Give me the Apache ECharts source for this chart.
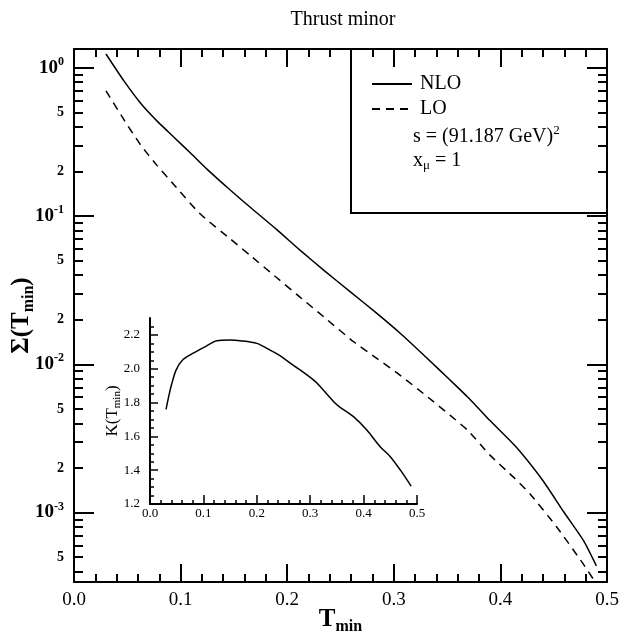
<!DOCTYPE html>
<html>
<head>
<meta charset="utf-8">
<script src="https://cdn.jsdelivr.net/npm/echarts@6/dist/echarts.min.js"></script>
<style>
  html, body { margin: 0; padding: 0; background: #fff; }
  #chart { width: 619px; height: 637px; }
</style>
</head>
<body>
<div id="chart"></div>
<script>
// main plot: Sigma(T_min), NLO and LO
const tNlo = [0.030, 0.047, 0.0625, 0.078, 0.094, 0.110, 0.125, 0.146, 0.167, 0.190, 0.212, 0.235,
  0.259, 0.283, 0.306, 0.330, 0.353, 0.372, 0.390, 0.415, 0.440, 0.459, 0.478, 0.490]
const sigmaNlo = [1.24, 0.813, 0.577, 0.437, 0.339, 0.263, 0.2065, 0.151, 0.112, 0.0813, 0.0589, 0.0427,
  0.0309, 0.0224, 0.0162, 0.0112, 0.0078, 0.00575, 0.00419, 0.00276, 0.00164, 0.00102, 0.000646, 0.000437]

const tLo = [0.030, 0.047, 0.0625, 0.078, 0.094, 0.118, 0.147, 0.165, 0.190, 0.212, 0.235, 0.262,
  0.285, 0.306, 0.330, 0.353, 0.370, 0.390, 0.412, 0.428, 0.453, 0.478, 0.489]
const sigmaLo = [0.70, 0.445, 0.302, 0.219, 0.162, 0.104, 0.0698, 0.0545, 0.0385, 0.0284, 0.0207, 0.01426,
  0.01084, 0.00843, 0.00617, 0.00452, 0.00355, 0.00245, 0.00174, 0.00133, 0.000796, 0.000447, 0.000339]

// inset: K factor
const tK = [0.030, 0.036, 0.041, 0.049, 0.061, 0.081, 0.106, 0.125, 0.150, 0.169, 0.200, 0.222, 0.244,
  0.262, 0.281, 0.306, 0.316, 0.344, 0.356, 0.381, 0.406, 0.431, 0.450, 0.469, 0.489]
const kVals = [1.76, 1.85, 1.914, 1.993, 2.052, 2.092, 2.135, 2.166, 2.170, 2.166, 2.150, 2.115, 2.076,
  2.035, 1.993, 1.934, 1.904, 1.805, 1.772, 1.717, 1.638, 1.539, 1.480, 1.400, 1.306]

// tick values
const yMajorTicks = [0.001, 0.01, 0.1, 1]
const yMinorTicks = [0.0004, 0.0005, 0.0006, 0.0007, 0.0008, 0.0009,
  0.002, 0.003, 0.004, 0.005, 0.006, 0.007, 0.008, 0.009,
  0.02, 0.03, 0.04, 0.05, 0.06, 0.07, 0.08, 0.09,
  0.2, 0.3, 0.4, 0.5, 0.6, 0.7, 0.8, 0.9]
const yLabelTicks = [0.0005, 0.001, 0.002, 0.005, 0.01, 0.02, 0.05, 0.1, 0.2, 0.5, 1]
const kMajorTicks = [1.2, 1.4, 1.6, 1.8, 2.0, 2.2]
const kMinorTicks = [1.25, 1.3, 1.35, 1.45, 1.5, 1.55, 1.65, 1.7, 1.75, 1.85, 1.9, 1.95,
  2.05, 2.1, 2.15, 2.25]

const SERIF = 'Liberation Serif'
const BLACK = '#000'

const chart = echarts.init(document.getElementById('chart'), null, { renderer: 'canvas' })

const line2 = { show: true, lineStyle: { color: BLACK, width: 2 } }
const noLabel = { show: false }

function logLabel(v) {
  const e = Math.log10(v)
  const r = Math.round(e)
  if (Math.abs(e - r) < 1e-6) return '{b|10}{s|' + r + '}'
  const m = Math.round(v / Math.pow(10, Math.floor(e)))
  return '{m|' + m + '}'
}

const logRich = {
  b: { fontFamily: SERIF, fontSize: 19, fontWeight: 'bold', color: BLACK },
  s: { fontFamily: SERIF, fontSize: 12, fontWeight: 'bold', color: BLACK, padding: [0, 0, 12, 0] },
  m: { fontFamily: SERIF, fontSize: 14, fontWeight: 'bold', color: BLACK },
}

function mainX(pos, withLabel) {
  return {
    type: 'value', gridIndex: 0, position: pos, min: 0, max: 0.5, interval: 0.1,
    axisLine: line2,
    axisTick: { inside: true, length: 18, lineStyle: { color: BLACK, width: 2 } },
    minorTick: { show: true, splitNumber: 5, length: 8, lineStyle: { color: BLACK, width: 2 } },
    splitLine: { show: false },
    axisLabel: withLabel ? {
      color: BLACK, fontFamily: SERIF, fontSize: 19, margin: 9,
      showMinLabel: true, showMaxLabel: true,
      formatter: v => v.toFixed(1),
    } : noLabel,
  }
}

function mainY(pos, major, withLabel) {
  return {
    type: 'log', logBase: 10, gridIndex: 0, position: pos, min: 3.4e-4, max: 1.34,
    axisLine: major ? line2 : { show: false },
    axisTick: {
      inside: true, length: major ? 20 : 9,
      customValues: major ? yMajorTicks : yMinorTicks,
      lineStyle: { color: BLACK, width: 2 },
    },
    minorTick: { show: false },
    splitLine: { show: false },
    axisLabel: withLabel ? {
      customValues: yLabelTicks, margin: 10, formatter: logLabel, rich: logRich,
    } : noLabel,
  }
}

const option = {
  backgroundColor: '#fff',
  animation: false,
  title: {
    text: 'Thrust minor', left: 338, top: 5, textAlign: 'center',
    textStyle: { fontFamily: SERIF, fontSize: 20, fontWeight: 'normal', color: BLACK },
  },
  legend: {
    data: ['NLO', 'LO'], orient: 'vertical', left: 366, top: 69,
    itemWidth: 40, itemHeight: 14, itemGap: 5,
    itemStyle: { opacity: 0 },
    textStyle: { fontFamily: SERIF, fontSize: 20, color: BLACK, padding: [0, 0, 0, 3] },
  },
  grid: [
    { left: 74, top: 49, right: 12, bottom: 55, outerBoundsMode: 'none' },
    { left: 150, top: 318, width: 267, height: 186, outerBoundsMode: 'none' },
  ],
  xAxis: [
    Object.assign(mainX('bottom', true), {
      name: '{t|T}{u|min}', nameLocation: 'middle', nameGap: 23, nameMoveOverlap: false,
      nameTextStyle: {
        rich: {
          t: { fontFamily: SERIF, fontSize: 25, fontWeight: 'bold', color: BLACK },
          u: { fontFamily: SERIF, fontSize: 16, fontWeight: 'bold', color: BLACK, padding: [14, 0, 0, 0] },
        },
      },
    }),
    mainX('top', false),
    {
      type: 'value', gridIndex: 1, min: 0, max: 0.5, interval: 0.1,
      axisLine: line2,
      axisTick: { inside: true, length: 9, lineStyle: { color: BLACK, width: 1.5 } },
      minorTick: { show: true, splitNumber: 5, length: 4, lineStyle: { color: BLACK, width: 1.5 } },
      splitLine: { show: false },
      axisLabel: {
        color: BLACK, fontFamily: SERIF, fontSize: 13, margin: 3,
        showMinLabel: true, showMaxLabel: true, formatter: v => v.toFixed(1),
      },
    },
  ],
  yAxis: [
    Object.assign(mainY('left', true, true), {
      name: '{a|Σ(T}{u|min}{a|)}', nameLocation: 'middle', nameGap: 37, nameMoveOverlap: false,
      nameTextStyle: {
        rich: {
          a: { fontFamily: SERIF, fontSize: 25, fontWeight: 'bold', color: BLACK },
          u: { fontFamily: SERIF, fontSize: 16, fontWeight: 'bold', color: BLACK, padding: [14, 0, 0, 0] },
        },
      },
    }),
    mainY('left', false, false),
    mainY('right', true, false),
    mainY('right', false, false),
    {
      type: 'value', gridIndex: 1, position: 'left', min: 1.2, max: 2.3,
      axisLine: line2,
      axisTick: { inside: true, length: 8, customValues: kMajorTicks, lineStyle: { color: BLACK, width: 1.5 } },
      splitLine: { show: false },
      axisLabel: {
        customValues: kMajorTicks, color: BLACK, fontFamily: SERIF, fontSize: 13, margin: 10,
        formatter: v => v.toFixed(1),
      },
      name: '{a|K(T}{u|min}{a|)}', nameLocation: 'middle', nameGap: 27, nameMoveOverlap: false,
      nameTextStyle: {
        rich: {
          a: { fontFamily: SERIF, fontSize: 17, color: BLACK },
          u: { fontFamily: SERIF, fontSize: 11, color: BLACK, padding: [10, 0, 0, 0] },
        },
      },
    },
    {
      type: 'value', gridIndex: 1, position: 'left', min: 1.2, max: 2.3,
      axisLine: { show: false },
      axisTick: { inside: true, length: 4, customValues: kMinorTicks, lineStyle: { color: BLACK, width: 1.5 } },
      splitLine: { show: false },
      axisLabel: noLabel,
    },
  ],
  graphic: [
    {
      type: 'rect', shape: { x: 351, y: 49, width: 256, height: 164 },
      style: { fill: 'none', stroke: BLACK, lineWidth: 2 }, z: 10,
    },
    {
      type: 'text', left: 413, top: 124,
      style: {
        text: '{t|s = (91.187 GeV)}{p|2}',
        rich: {
          t: { fontFamily: SERIF, fontSize: 20, fill: BLACK },
          p: { fontFamily: SERIF, fontSize: 13, fill: BLACK, padding: [0, 0, 12, 0] },
        },
      },
    },
    {
      type: 'text', left: 413, top: 151,
      style: {
        text: '{t|x}{u|μ}{t| = 1}',
        rich: {
          t: { fontFamily: SERIF, fontSize: 20, fill: BLACK },
          u: { fontFamily: SERIF, fontSize: 13, fill: BLACK, padding: [10, 0, 0, 0] },
        },
      },
    },
  ],
  series: [
    {
      name: 'NLO', type: 'line', xAxisIndex: 0, yAxisIndex: 0,
      data: tNlo.map((t, i) => [t, sigmaNlo[i]]),
      showSymbol: false, symbol: 'none', smooth: 0.2, clip: true,
      lineStyle: { color: BLACK, width: 1.5, type: 'solid' },
      itemStyle: { color: BLACK },
    },
    {
      name: 'LO', type: 'line', xAxisIndex: 0, yAxisIndex: 0,
      data: tLo.map((t, i) => [t, sigmaLo[i]]),
      showSymbol: false, symbol: 'none', smooth: 0.2, clip: true,
      lineStyle: { color: BLACK, width: 1.5, type: [8, 6] },
      itemStyle: { color: BLACK },
    },
    {
      name: 'K', type: 'line', xAxisIndex: 2, yAxisIndex: 4,
      data: tK.map((t, i) => [t, kVals[i]]),
      showSymbol: false, symbol: 'none', smooth: 0.3,
      lineStyle: { color: BLACK, width: 1.5 },
      itemStyle: { color: BLACK },
    },
  ],
}

chart.setOption(option)
</script>
</body>
</html>
